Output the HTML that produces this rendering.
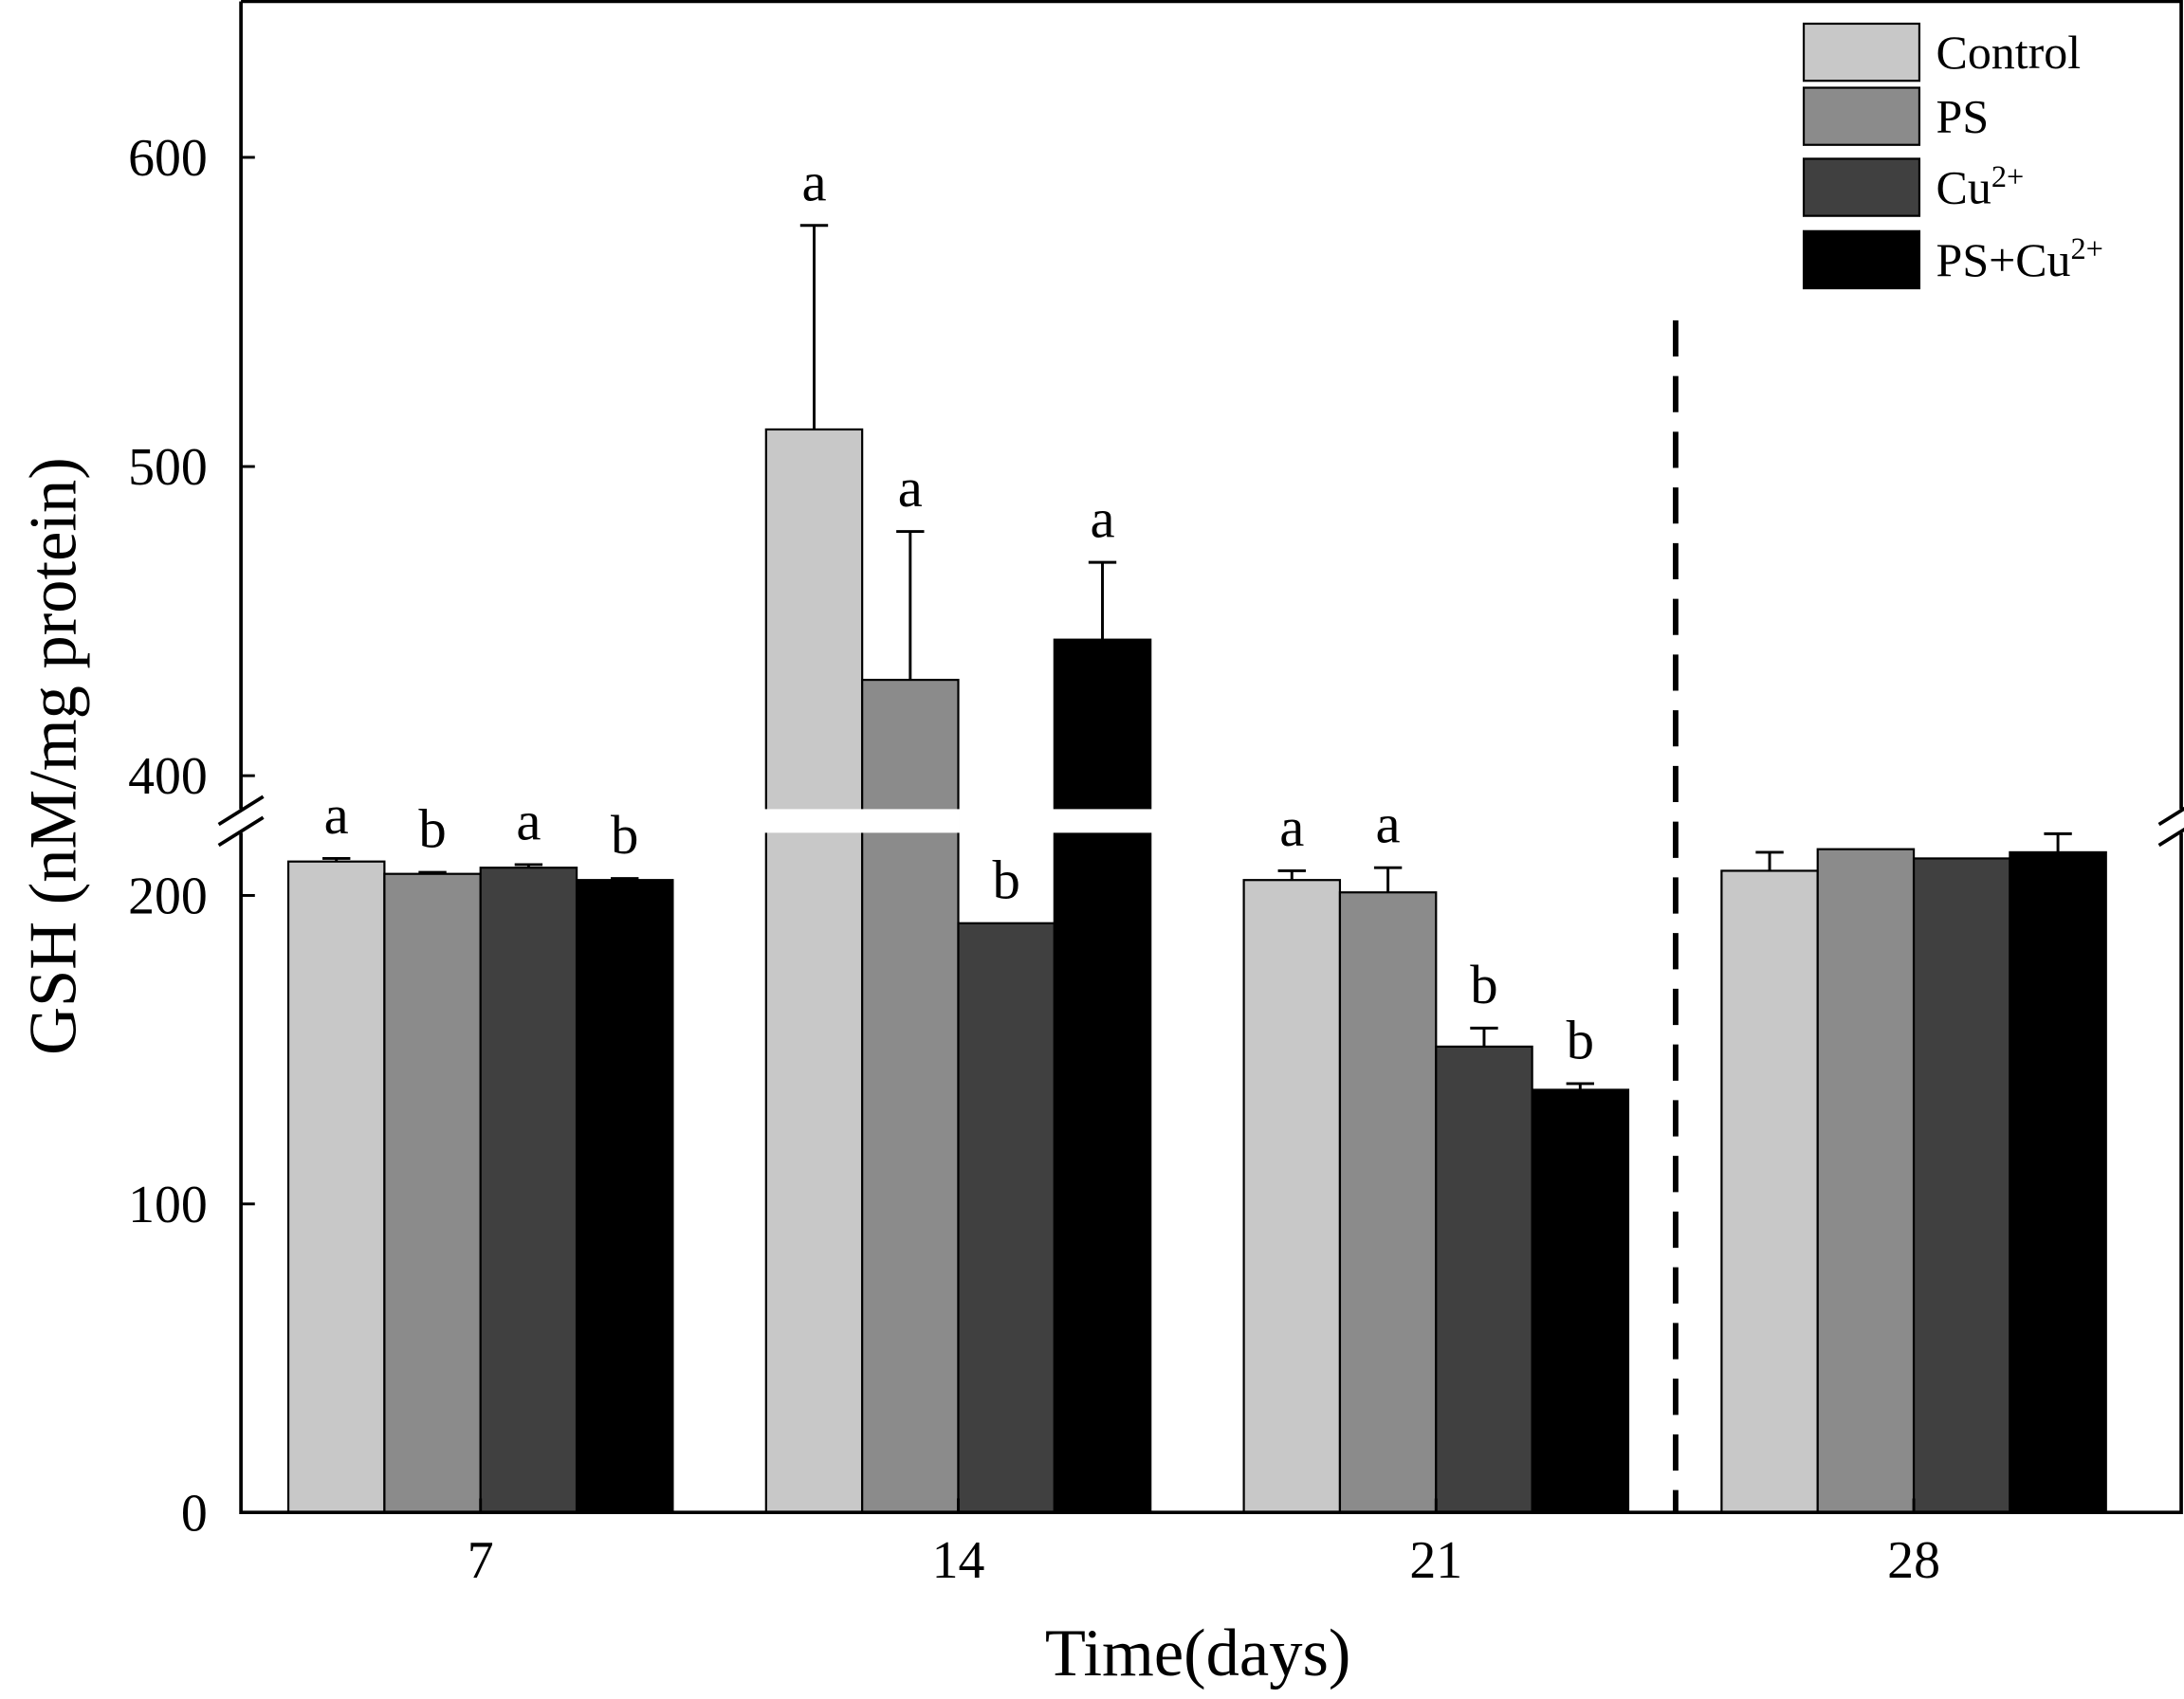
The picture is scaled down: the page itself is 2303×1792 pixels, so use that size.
<!DOCTYPE html>
<html><head><meta charset="utf-8"><style>
html,body{margin:0;padding:0;background:#fff}
svg{display:block}
text{font-family:"Liberation Serif",serif;fill:#000}
</style></head><body>
<svg id="chart" width="2303" height="1792" viewBox="0 0 1568 1220" preserveAspectRatio="none" xmlns="http://www.w3.org/2000/svg">
<rect x="0" y="0" width="1568" height="1220" fill="#fff"/>
<g id="bars"></g>
<g id="axes"></g>
<g id="letters"></g>
</svg>
<script>
const categories = ["7","14","21","28"];
const seriesNames = ["Control","PS","Cu2+","PS+Cu2+"];
const control = [211, 512, 205, 208];
const ps = [207, 431, 201, 215];
const cu = [209, 191, 151, 212];
const pscu = [205, 444, 137, 214];
const controlErr = [212, 578, 208, 214];
const psErr = [207.5, 479, 209, 215];
const cuErr = [210, 191, 157, 212];
const pscuErr = [205.5, 469, 139, 220];
const controlLetters = ["a","a","a",""];
const psLetters = ["b","a","a",""];
const cuLetters = ["a","b","b",""];
const pscuLetters = ["b","a","b",""];
const lowTicks = [0,100,200];
const highTicks = [400,500,600];

const NS="http://www.w3.org/2000/svg";
const gBars=document.getElementById('bars');
const gAx=document.getElementById('axes');
const gLet=document.getElementById('letters');
function el(tag,attrs,parent,txt){const e=document.createElementNS(NS,tag);for(const k in attrs)e.setAttribute(k,attrs[k]);if(txt!==undefined)e.textContent=txt;parent.appendChild(e);return e;}
const X0=173,X1=1566,Y0=1086,GAP_TOP=581,GAP_H=17;
function yScale(v){return v<=225? Y0-v*2.215 : 557-(v-400)*2.22;}
function xCenter(i){return 345+i*343;}
const BW=69;
const colors=["#c8c8c8","#8b8b8b","#404040","#000000"];
const vals=[control,ps,cu,pscu], errs=[controlErr,psErr,cuErr,pscuErr], lets=[controlLetters,psLetters,cuLetters,pscuLetters];
const keys=["control","ps","cu","ps-cu"];
for(let s=0;s<4;s++){
  for(let i=0;i<categories.length;i++){
    const x=xCenter(i)-2*BW+s*BW, v=vals[s][i], yt=yScale(v);
    const r=el('rect',{x:x,y:yt,width:BW,height:Y0-yt,fill:colors[s],stroke:"#000","stroke-width":1.5},gBars);
    
    
    if(yt<GAP_TOP){
      const g=el('rect',{x:x-1,y:GAP_TOP,width:BW+2,height:GAP_H,fill:"#fff"},gBars);
      
      
    }
    const ye=yScale(errs[s][i]);
    if(ye<yt-1){
      const l=el('path',{d:`M${x+BW/2},${yt}V${ye}M${x+BW/2-10},${ye}H${x+BW/2+10}`,stroke:"#000","stroke-width":2,fill:"none"},gBars);
      
      
    }
    if(lets[s][i]){
      const t=el('text',{x:x+BW/2,y:Math.min(ye,yt)-18,"font-size":40,"text-anchor":"middle"},gLet,lets[s][i]);
      
      
    }
  }
}
const fr=el('path',{d:`M${X0},${GAP_TOP}V1M${X0},1H${X1}V${GAP_TOP}M${X1},${GAP_TOP+GAP_H}V${Y0}H${X0}V${GAP_TOP+GAP_H}`,stroke:"#000","stroke-width":2.5,fill:"none"},gAx);


for(const bx of [X0,X1]){
  const b=el('path',{d:`M${bx-16},${592}L${bx+16},${572}M${bx-16},${607}L${bx+16},${587}`,stroke:"#000","stroke-width":2.5},gAx);
  
  
}
for(const v of lowTicks.concat(highTicks)){
  const y=yScale(v);
  const tk=el('line',{x1:X0,x2:X0+10,y1:y,y2:y,stroke:"#000","stroke-width":2},gAx);
  
  
  const t=el('text',{x:X0-24,y:y+13,"font-size":38,"text-anchor":"end"},gAx,String(v));
  
  
}
for(let i=0;i<categories.length;i++){
  const x=xCenter(i);
  const tk=el('line',{x1:x,x2:x,y1:Y0,y2:Y0-10,stroke:"#000","stroke-width":2},gAx);
  
  
  const t=el('text',{x:x,y:Y0+47,"font-size":38,"text-anchor":"middle"},gAx,categories[i]);
  
  
}
const dl=el('line',{x1:1203,x2:1203,y1:230,y2:Y0,stroke:"#000","stroke-width":4,"stroke-dasharray":"26,14"},gAx);


const xt=el('text',{x:860,y:1203,"font-size":48,"text-anchor":"middle"},gAx,"Time(days)");


const yt=el('text',{x:0,y:0,"font-size":48,"text-anchor":"middle",transform:"translate(54,543) rotate(-90)"},gAx,"GSH (nM/mg protein)");


const legY=[17,63,114,166];
const legendHTML=["Control","PS","Cu<tspan dy='-12' font-size='22'>2+</tspan>","PS+Cu<tspan dy='-12' font-size='22'>2+</tspan>"];
for(let s=0;s<4;s++){
  const g=el('g',{},gAx);
  
  
  el('rect',{x:1295,y:legY[s],width:83,height:41,fill:colors[s],stroke:"#000","stroke-width":1.5},g);
  const t=el('text',{x:1390,y:legY[s]+32,"font-size":34},g);
  t.innerHTML=legendHTML[s];
}
</script>
</body></html>
